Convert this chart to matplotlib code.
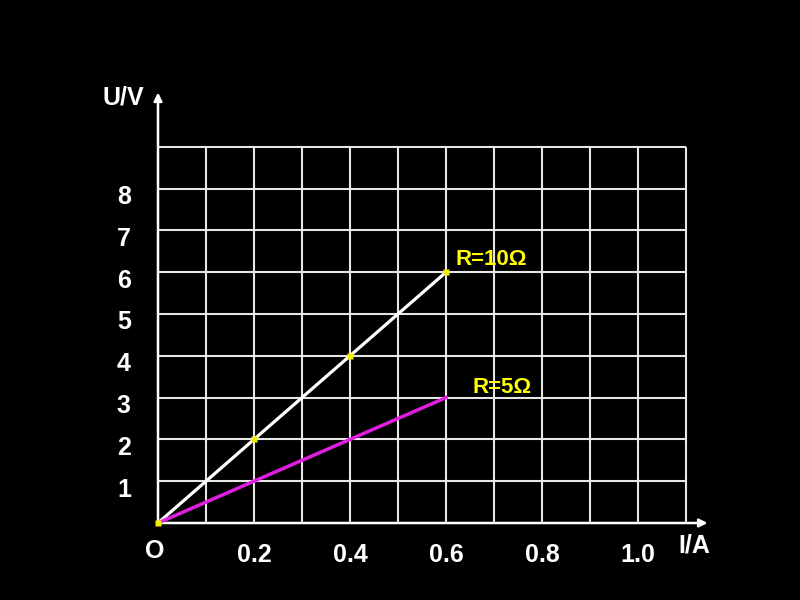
import numpy as np
import matplotlib
matplotlib.use('Agg')
import matplotlib.pyplot as plt

plt.rcParams['font.family'] = ['Liberation Sans', 'DejaVu Sans']
plt.rcParams['font.weight'] = 'bold'

# data
current = [0.0, 0.2, 0.4, 0.6]          # I/A
u_10ohm = [0.0, 2.0, 4.0, 6.0]          # U/V for R=10 ohm
u_5ohm = [0.0, 1.0, 2.0, 3.0]           # U/V for R=5 ohm
x_ticks = [0.2, 0.4, 0.6, 0.8, 1.0]
x_tick_labels = ['0.2', '0.4', '0.6', '0.8', '1.0']
y_ticks = [1, 2, 3, 4, 5, 6, 7, 8]
y_tick_labels = ['1', '2', '3', '4', '5', '6', '7', '8']
x_grid = np.arange(1, 12) / 10.0   # 0.1 .. 1.1
y_grid = np.arange(1, 10)          # 1 .. 9

fig = plt.figure(figsize=(8, 6), dpi=100, facecolor='black')
ax = fig.add_axes([0, 0, 1, 1])
ax.set_facecolor('black')
# map data coordinates onto the slide pixels (origin at ~158,523)
ax.set_xlim(-158 / 480, 642 / 480)
ax.set_ylim(-77 / 41.8, 523 / 41.8)
ax.axis('off')

grid_kw = dict(color='#e6e6e6', lw=1.5, zorder=1)
ax.hlines(y_grid, 0, 1.1, **grid_kw)
ax.vlines(x_grid, 0, 9, **grid_kw)

# axes with arrows
ax.annotate('', xy=(1.145, 0), xytext=(0, 0),
            arrowprops=dict(arrowstyle='-|>', color='white', lw=1.8,
                            mutation_scale=12, shrinkA=0, shrinkB=0), zorder=3)
ax.annotate('', xy=(0, 10.3), xytext=(0, 0),
            arrowprops=dict(arrowstyle='-|>', color='white', lw=1.8,
                            mutation_scale=12, shrinkA=0, shrinkB=0), zorder=3)

# the two lines
ax.plot(current, u_10ohm, color='white', lw=2.3, zorder=4)
ax.plot(current, u_5ohm, color='#e01ee0', lw=2.5, zorder=4)
ax.plot(current, u_10ohm, ls='none', marker='s', ms=4.5, color='#f0f000',
        mec='none', zorder=5)

ax.annotate('R=10Ω', xy=(current[-1], u_10ohm[-1]), xytext=(7, 9),
            textcoords='offset points', ha='left', va='center',
            color='#ffff00', fontsize=16, fontweight='bold')
ax.annotate('R=5Ω', xy=(current[-1], u_5ohm[-1]), xytext=(19, 7),
            textcoords='offset points', ha='left', va='center',
            color='#ffff00', fontsize=16, fontweight='bold')

# tick labels
for xt, lab in zip(x_ticks, x_tick_labels):
    ax.text(xt, -0.77, lab, ha='center', va='center', color='white',
            fontsize=18, fontweight='bold')
for yt, lab in zip(y_ticks, y_tick_labels):
    ax.text(-0.071, yt - 0.2, lab, ha='center', va='center', color='white',
            fontsize=18, fontweight='bold')

ax.text(-0.006, -0.67, 'O', ha='center', va='center', color='white',
        fontsize=18, fontweight='bold')
ax.text(1.117, -0.55, 'I/A', ha='center', va='center', color='white',
        fontsize=18, fontweight='bold')
ax.text(-0.073, 10.19, 'U/V', ha='center', va='center', color='white',
        fontsize=18, fontweight='bold')

fig.savefig('out.png', dpi=100, facecolor='black')
